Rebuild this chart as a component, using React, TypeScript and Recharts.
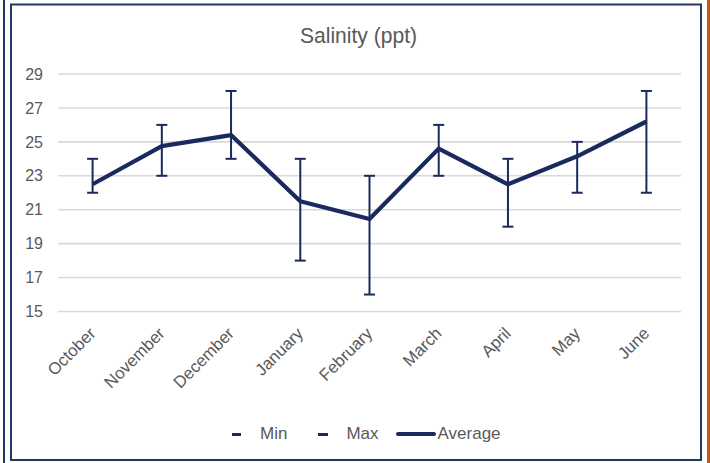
import React from 'react';
import { LineChart, Line, XAxis, YAxis, CartesianGrid, ErrorBar, Legend } from 'recharts';

const months = ['October', 'November', 'December', 'January', 'February', 'March', 'April', 'May', 'June'];
const avgValues = [22.5, 24.75, 25.4, 21.5, 20.45, 24.6, 22.5, 24.15, 26.2];
const minValues = [22, 23, 24, 18, 16, 23, 20, 22, 22];
const maxValues = [24, 26, 28, 24, 23, 26, 24, 25, 28];
const yTicks = [15, 17, 19, 21, 23, 25, 27, 29];
const seriesNames = ['Min', 'Max', 'Average'];
const title = 'Salinity  (ppt)';

const NAVY = '#1B2A5E';
const BORDER = '#203864';
const TEXT = '#595959';
const FONT = 'Arial, "Liberation Sans", sans-serif';

const data = months.map((m, i) => ({
  month: m,
  avg: avgValues[i],
  err: [avgValues[i] - minValues[i], maxValues[i] - avgValues[i]],
}));

const MonthTick = (props: any) => {
  const { x, y, payload } = props;
  const ax = x + 4;
  const ay = y + 23;
  return (
    <text
      x={ax}
      y={ay}
      transform={`rotate(-45, ${ax}, ${ay})`}
      textAnchor="end"
      fontSize={16.8}
      fill={TEXT}
      fontFamily={FONT}
    >
      {payload.value}
    </text>
  );
};

const LegendContent = () => (
  <div
    style={{
      display: 'flex',
      alignItems: 'center',
      paddingLeft: 232,
      height: 28,
      fontFamily: FONT,
      fontSize: 17,
      color: TEXT,
      lineHeight: '28px',
    }}
  >
    <span style={{ display: 'inline-block', width: 9, height: 3, background: NAVY, marginRight: 19 }} />
    <span style={{ marginRight: 31 }}>{seriesNames[0]}</span>
    <span style={{ display: 'inline-block', width: 10, height: 3, background: NAVY, marginRight: 18 }} />
    <span style={{ marginRight: 17 }}>{seriesNames[1]}</span>
    <span style={{ display: 'inline-block', width: 40, height: 4, borderRadius: 2, background: NAVY, marginRight: 2 }} />
    <span>{seriesNames[2]}</span>
  </div>
);

export default function App() {
  return (
    <div style={{ position: 'absolute', left: 0, top: 0, width: 710, height: 463, background: '#fff' }}>
      <LineChart
        width={710}
        height={463}
        data={data}
        margin={{ top: 74, right: 29, bottom: 0, left: 0 }}
      >
        <CartesianGrid vertical={false} stroke="#D9D9D9" strokeWidth={1.6} />
        <XAxis
          dataKey="month"
          axisLine={false}
          tickLine={false}
          tickSize={0}
          tickMargin={0}
          height={123.5}
          interval={0}
          padding={{ left: 34.6, right: 34.6 }}
          tick={<MonthTick />}
        />
        <YAxis
          domain={[15, 29]}
          ticks={yTicks}
          axisLine={false}
          tickLine={false}
          tickSize={0}
          tickMargin={15}
          width={58}
          tick={{ fontSize: 16, fill: TEXT, fontFamily: FONT }}
        />
        <Legend
          verticalAlign="bottom"
          content={<LegendContent />}
          wrapperStyle={{ position: 'absolute', left: 0, top: 420, width: 710, height: 28 }}
        />
        <Line
          dataKey="avg"
          name="Average"
          stroke={NAVY}
          strokeWidth={4.2}
          strokeLinejoin="round"
          dot={false}
          activeDot={false}
          isAnimationActive={false}
        >
          <ErrorBar dataKey="err" direction="y" width={5.5} stroke={NAVY} strokeWidth={2} isAnimationActive={false} />
        </Line>
      </LineChart>
      <svg
        width={710}
        height={463}
        style={{ position: 'absolute', left: 0, top: 0, pointerEvents: 'none' }}
      >
        <rect x={3} y={0} width={2} height={463} fill={BORDER} />
        <rect x={11} y={4.5} width={690} height={455.5} fill="none" stroke={BORDER} strokeWidth={2} />
        <rect x={707} y={0} width={3} height={463} fill="#C55A11" />
        <text
          x={300}
          y={43}
          fontSize={22}
          fill={TEXT}
          fontFamily={FONT}
          textLength={117}
          lengthAdjust="spacingAndGlyphs"
        >
          {title}
        </text>
      </svg>
    </div>
  );
}
